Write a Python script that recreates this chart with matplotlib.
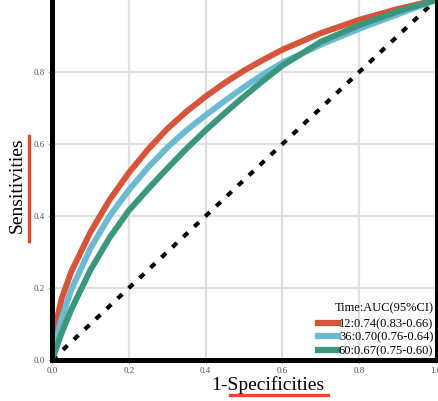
import matplotlib
matplotlib.use("Agg")
import matplotlib.pyplot as plt
from matplotlib.lines import Line2D

# ROC curves (1-specificity vs sensitivity)
fpr = [0, 0.01, 0.025, 0.05, 0.1, 0.15, 0.2, 0.25, 0.3, 0.35, 0.4, 0.45, 0.5, 0.55, 0.6, 0.7, 0.8, 0.9, 1.0]
tpr_12 = [0, 0.10, 0.17, 0.245, 0.355, 0.445, 0.52, 0.585, 0.642, 0.69, 0.732, 0.77, 0.804, 0.834, 0.862, 0.908, 0.945, 0.975, 1.0]
tpr_36 = [0, 0.055, 0.115, 0.195, 0.31, 0.40, 0.472, 0.535, 0.59, 0.638, 0.68, 0.72, 0.758, 0.794, 0.826, 0.876, 0.92, 0.96, 1.0]
tpr_60 = [0, 0.03, 0.075, 0.14, 0.25, 0.34, 0.415, 0.475, 0.532, 0.587, 0.638, 0.686, 0.732, 0.776, 0.818, 0.884, 0.93, 0.968, 1.0]

labels = ["12:0.74(0.83-0.66)", "36:0.70(0.76-0.64)", "60:0.67(0.75-0.60)"]
colors = ["#D6553A", "#6CBAD2", "#3A977D"]
xticks = [0.0, 0.2, 0.4, 0.6, 0.8, 1.0]
yticks = [0.0, 0.2, 0.4, 0.6, 0.8]

serif = ["Liberation Serif", "DejaVu Serif"]

fig = plt.figure(figsize=(4.39, 4.01), dpi=100)
ax = fig.add_axes([0.1185, 0.1022, 0.8747, 0.8978])

ax.grid(True, color="#e0e0e0", lw=1.6)
ax.set_axisbelow(True)

ax.plot([0, 1], [0, 1], color="black", lw=3, dashes=(1.5, 2.1))
for y, c in zip([tpr_12, tpr_36, tpr_60], colors):
    ax.plot(fpr, y, color=c, lw=4.3, solid_capstyle="round", solid_joinstyle="round")

ax.set_xlim(0, 1)
ax.set_ylim(0, 1)
ax.set_xticks(xticks)
ax.set_yticks(yticks)
ax.set_xticklabels(["%.1f" % t for t in xticks])
ax.set_yticklabels(["%.1f" % t for t in yticks])
ax.tick_params(length=2, width=0.8, pad=3, labelsize=6.5, labelcolor="#555555")
for lab in ax.get_xticklabels() + ax.get_yticklabels():
    lab.set_family(serif)

ax.spines["top"].set_visible(False)
ax.spines["left"].set_linewidth(3.6)
ax.spines["bottom"].set_linewidth(3.6)
ax.spines["right"].set_linewidth(2.2)

fig.text(0.039, 0.539, "Sensitivities", rotation=90, ha="center", va="center",
         fontsize=14, family=serif)
fig.text(0.61, 0.04, "1-Specificities", ha="center", va="center",
         fontsize=14, family=serif)

# red underline marks
fig.add_artist(Line2D([0.066, 0.066], [0.40, 0.66], transform=fig.transFigure,
                      color="#E8472B", lw=2.4))
fig.add_artist(Line2D([0.524, 0.747], [0.015, 0.015], transform=fig.transFigure,
                      color="#E8472B", lw=2.4))

handles = [Line2D([0], [0], color=c, lw=4.5) for c in colors]
leg = ax.legend(handles, labels, title="Time:AUC(95%CI)", loc="lower right",
                bbox_to_anchor=(1.006, -0.006), frameon=False, handlelength=1.6,
                handletextpad=0.1, labelspacing=0.12, borderaxespad=0.0,
                prop={"family": serif, "size": 9})
leg.get_title().set_family(serif)
leg.get_title().set_fontsize(9)
leg._legend_box.align = "right"
leg._legend_box.sep = 3

fig.savefig("out.png", dpi=100)
